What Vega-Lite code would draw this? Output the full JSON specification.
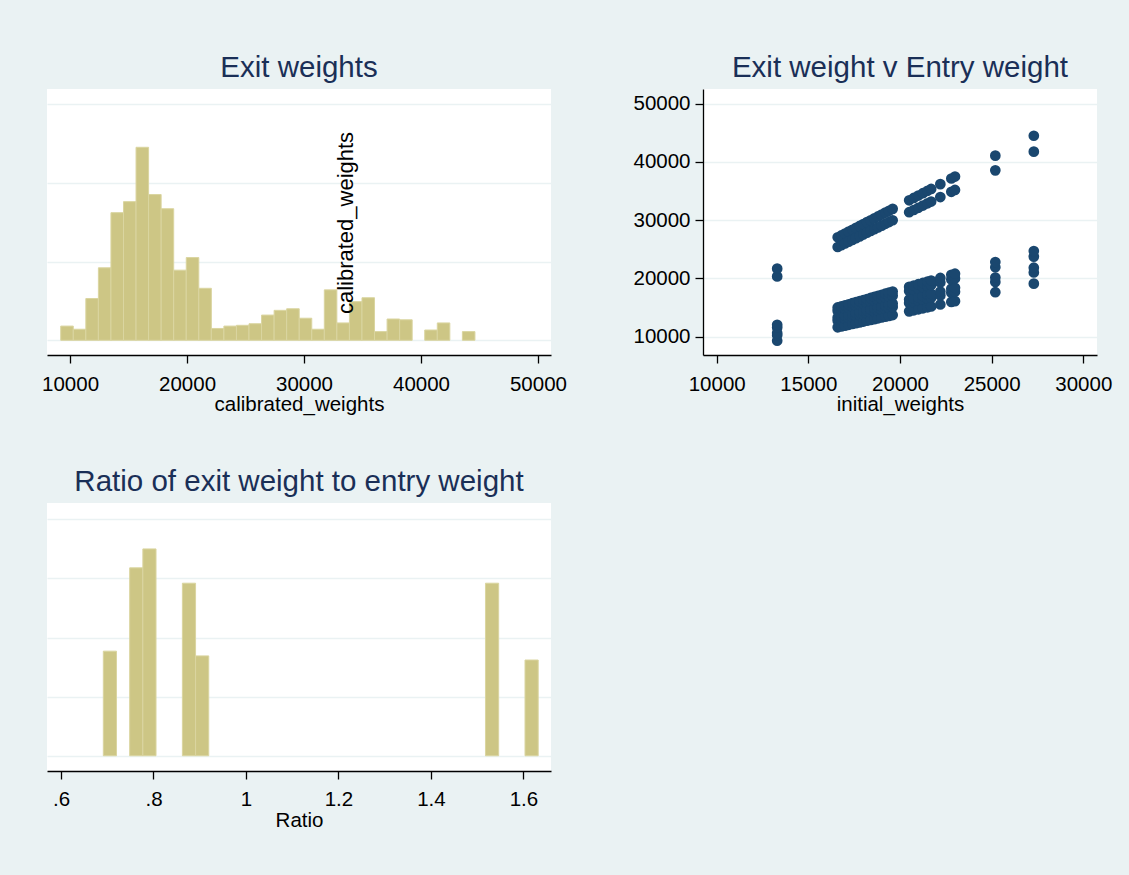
{
  "$schema": "https://vega.github.io/schema/vega-lite/v6.json",
  "background": "#eaf2f3",
  "padding": {"left": 41, "top": 52, "right": 17, "bottom": 49},
  "config": {
    "font": "Liberation Sans",
    "view": {"fill": "white", "stroke": null},
    "title": {"fontSize": 29.5, "fontWeight": "normal", "color": "#1a2f57", "baseline": "alphabetic", "offset": 6, "anchor": "middle", "frame": "group", "font": "Liberation Sans"},
    "axis": {
      "labelFont": "Liberation Sans", "labelFontSize": 20.5, "labelColor": "#000000",
      "titleFont": "Liberation Sans", "titleFontSize": 20.5, "titleFontWeight": "normal", "titleColor": "#000000",
      "domainColor": "#000000", "tickColor": "#000000", "domainWidth": 1.3, "tickWidth": 1.3, "tickSize": 8,
      "gridColor": "#eaf2f3", "gridWidth": 1.7, "gridOpacity": 1,
      "labelFlush": false, "labelOverlap": false
    }
  },
  "datasets": {
    "hist1": [
      {"bin_start": 9203, "bin_end": 10276, "density": 0.0000090},
      {"bin_start": 10276, "bin_end": 11349, "density": 0.0000070},
      {"bin_start": 11349, "bin_end": 12422, "density": 0.0000265},
      {"bin_start": 12422, "bin_end": 13495, "density": 0.0000460},
      {"bin_start": 13495, "bin_end": 14568, "density": 0.0000810},
      {"bin_start": 14568, "bin_end": 15641, "density": 0.0000880},
      {"bin_start": 15641, "bin_end": 16714, "density": 0.0001225},
      {"bin_start": 16714, "bin_end": 17787, "density": 0.0000925},
      {"bin_start": 17787, "bin_end": 18860, "density": 0.0000835},
      {"bin_start": 18860, "bin_end": 19933, "density": 0.0000445},
      {"bin_start": 19933, "bin_end": 21006, "density": 0.0000525},
      {"bin_start": 21006, "bin_end": 22079, "density": 0.0000330},
      {"bin_start": 22079, "bin_end": 23152, "density": 0.0000075},
      {"bin_start": 23152, "bin_end": 24225, "density": 0.0000090},
      {"bin_start": 24225, "bin_end": 25298, "density": 0.0000095},
      {"bin_start": 25298, "bin_end": 26371, "density": 0.0000105},
      {"bin_start": 26371, "bin_end": 27444, "density": 0.0000160},
      {"bin_start": 27444, "bin_end": 28517, "density": 0.0000190},
      {"bin_start": 28517, "bin_end": 29590, "density": 0.0000200},
      {"bin_start": 29590, "bin_end": 30663, "density": 0.0000140},
      {"bin_start": 30663, "bin_end": 31736, "density": 0.0000070},
      {"bin_start": 31736, "bin_end": 32809, "density": 0.0000320},
      {"bin_start": 32809, "bin_end": 33882, "density": 0.0000110},
      {"bin_start": 33882, "bin_end": 34955, "density": 0.0000245},
      {"bin_start": 34955, "bin_end": 36028, "density": 0.0000270},
      {"bin_start": 36028, "bin_end": 37101, "density": 0.0000055},
      {"bin_start": 37101, "bin_end": 38174, "density": 0.0000135},
      {"bin_start": 38174, "bin_end": 39247, "density": 0.0000130},
      {"bin_start": 40320, "bin_end": 41393, "density": 0.0000065},
      {"bin_start": 41393, "bin_end": 42466, "density": 0.0000110},
      {"bin_start": 43539, "bin_end": 44612, "density": 0.0000055}
    ],
    "hist2": [
      {"bin_start": 0.6915, "bin_end": 0.7200, "density": 3.54},
      {"bin_start": 0.7485, "bin_end": 0.7770, "density": 6.36},
      {"bin_start": 0.7770, "bin_end": 0.8055, "density": 7.00},
      {"bin_start": 0.8625, "bin_end": 0.8910, "density": 5.84},
      {"bin_start": 0.8910, "bin_end": 0.9195, "density": 3.38},
      {"bin_start": 1.5180, "bin_end": 1.5465, "density": 5.84},
      {"bin_start": 1.6035, "bin_end": 1.6320, "density": 3.24}
    ],
    "scatter": [
      {"iw":13300,"cw":9310},{"iw":13300,"cw":10240},{"iw":13300,"cw":10640},{"iw":13300,"cw":11570},{"iw":13300,"cw":12040},{"iw":13300,"cw":20350},{"iw":13300,"cw":21680},
      {"iw":16600,"cw":11620},{"iw":16600,"cw":12780},{"iw":16600,"cw":13280},{"iw":16600,"cw":14440},{"iw":16600,"cw":15020},{"iw":16600,"cw":25400},{"iw":16600,"cw":27060},
      {"iw":16800,"cw":11760},{"iw":16800,"cw":12940},{"iw":16800,"cw":13440},{"iw":16800,"cw":14620},{"iw":16800,"cw":15200},{"iw":16800,"cw":25700},{"iw":16800,"cw":27380},
      {"iw":17000,"cw":11900},{"iw":17000,"cw":13090},{"iw":17000,"cw":13600},{"iw":17000,"cw":14790},{"iw":17000,"cw":15390},{"iw":17000,"cw":26010},{"iw":17000,"cw":27710},
      {"iw":17200,"cw":12040},{"iw":17200,"cw":13240},{"iw":17200,"cw":13760},{"iw":17200,"cw":14960},{"iw":17200,"cw":15570},{"iw":17200,"cw":26320},{"iw":17200,"cw":28040},
      {"iw":17400,"cw":12180},{"iw":17400,"cw":13400},{"iw":17400,"cw":13920},{"iw":17400,"cw":15140},{"iw":17400,"cw":15750},{"iw":17400,"cw":26620},{"iw":17400,"cw":28360},
      {"iw":17600,"cw":12320},{"iw":17600,"cw":13550},{"iw":17600,"cw":14080},{"iw":17600,"cw":15310},{"iw":17600,"cw":15930},{"iw":17600,"cw":26930},{"iw":17600,"cw":28690},
      {"iw":17800,"cw":12460},{"iw":17800,"cw":13710},{"iw":17800,"cw":14240},{"iw":17800,"cw":15490},{"iw":17800,"cw":16110},{"iw":17800,"cw":27230},{"iw":17800,"cw":29010},
      {"iw":18000,"cw":12600},{"iw":18000,"cw":13860},{"iw":18000,"cw":14400},{"iw":18000,"cw":15660},{"iw":18000,"cw":16290},{"iw":18000,"cw":27540},{"iw":18000,"cw":29340},
      {"iw":18200,"cw":12740},{"iw":18200,"cw":14010},{"iw":18200,"cw":14560},{"iw":18200,"cw":15830},{"iw":18200,"cw":16470},{"iw":18200,"cw":27850},{"iw":18200,"cw":29670},
      {"iw":18400,"cw":12880},{"iw":18400,"cw":14170},{"iw":18400,"cw":14720},{"iw":18400,"cw":16010},{"iw":18400,"cw":16650},{"iw":18400,"cw":28150},{"iw":18400,"cw":29990},
      {"iw":18600,"cw":13020},{"iw":18600,"cw":14320},{"iw":18600,"cw":14880},{"iw":18600,"cw":16180},{"iw":18600,"cw":16830},{"iw":18600,"cw":28460},{"iw":18600,"cw":30320},
      {"iw":18800,"cw":13160},{"iw":18800,"cw":14480},{"iw":18800,"cw":15040},{"iw":18800,"cw":16360},{"iw":18800,"cw":17010},{"iw":18800,"cw":28760},{"iw":18800,"cw":30640},
      {"iw":19000,"cw":13300},{"iw":19000,"cw":14630},{"iw":19000,"cw":15200},{"iw":19000,"cw":16530},{"iw":19000,"cw":17200},{"iw":19000,"cw":29070},{"iw":19000,"cw":30970},
      {"iw":19200,"cw":13440},{"iw":19200,"cw":14780},{"iw":19200,"cw":15360},{"iw":19200,"cw":16700},{"iw":19200,"cw":17380},{"iw":19200,"cw":29380},{"iw":19200,"cw":31300},
      {"iw":19400,"cw":13580},{"iw":19400,"cw":14940},{"iw":19400,"cw":15520},{"iw":19400,"cw":16880},{"iw":19400,"cw":17560},{"iw":19400,"cw":29680},{"iw":19400,"cw":31620},
      {"iw":19600,"cw":13720},{"iw":19600,"cw":15090},{"iw":19600,"cw":15680},{"iw":19600,"cw":17050},{"iw":19600,"cw":17740},{"iw":19600,"cw":29990},{"iw":19600,"cw":31950},
      {"iw":20500,"cw":14350},{"iw":20500,"cw":15790},{"iw":20500,"cw":16400},{"iw":20500,"cw":17840},{"iw":20500,"cw":18550},{"iw":20500,"cw":31370},{"iw":20500,"cw":33420},
      {"iw":20750,"cw":14530},{"iw":20750,"cw":15980},{"iw":20750,"cw":16600},{"iw":20750,"cw":18050},{"iw":20750,"cw":18780},{"iw":20750,"cw":31750},{"iw":20750,"cw":33820},
      {"iw":21000,"cw":14700},{"iw":21000,"cw":16170},{"iw":21000,"cw":16800},{"iw":21000,"cw":18270},{"iw":21000,"cw":19010},{"iw":21000,"cw":32130},{"iw":21000,"cw":34230},
      {"iw":21250,"cw":14880},{"iw":21250,"cw":16360},{"iw":21250,"cw":17000},{"iw":21250,"cw":18490},{"iw":21250,"cw":19230},{"iw":21250,"cw":32510},{"iw":21250,"cw":34640},
      {"iw":21500,"cw":15050},{"iw":21500,"cw":16560},{"iw":21500,"cw":17200},{"iw":21500,"cw":18710},{"iw":21500,"cw":19460},{"iw":21500,"cw":32900},{"iw":21500,"cw":35050},
      {"iw":21700,"cw":15190},{"iw":21700,"cw":16710},{"iw":21700,"cw":17360},{"iw":21700,"cw":18880},{"iw":21700,"cw":19640},{"iw":21700,"cw":33200},{"iw":21700,"cw":35370},
      {"iw":22200,"cw":15540},{"iw":22200,"cw":17090},{"iw":22200,"cw":17760},{"iw":22200,"cw":19310},{"iw":22200,"cw":20090},{"iw":22200,"cw":33970},{"iw":22200,"cw":36190},
      {"iw":22800,"cw":15960},{"iw":22800,"cw":17560},{"iw":22800,"cw":18240},{"iw":22800,"cw":19840},{"iw":22800,"cw":20630},{"iw":22800,"cw":34880},{"iw":22800,"cw":37160},
      {"iw":23000,"cw":16100},{"iw":23000,"cw":17710},{"iw":23000,"cw":18400},{"iw":23000,"cw":20010},{"iw":23000,"cw":20820},{"iw":23000,"cw":35190},{"iw":23000,"cw":37490},
      {"iw":25200,"cw":17640},{"iw":25200,"cw":19400},{"iw":25200,"cw":20160},{"iw":25200,"cw":21920},{"iw":25200,"cw":22810},{"iw":25200,"cw":38560},{"iw":25200,"cw":41080},
      {"iw":27300,"cw":19110},{"iw":27300,"cw":21020},{"iw":27300,"cw":21840},{"iw":27300,"cw":23750},{"iw":27300,"cw":24710},{"iw":27300,"cw":41770},{"iw":27300,"cw":44500}
    ]
  },
  "concat": [
    {
      "width": 504, "height": 266,
      "title": "Exit weights",
      "data": {"name": "hist1"},
      "mark": {"type": "rect", "fill": "#cdc685", "stroke": "#dad5a0", "strokeWidth": 1},
      "encoding": {
        "x": {"field": "bin_start", "type": "quantitative",
          "scale": {"domain": [8029, 51114], "nice": false, "zero": false},
          "axis": {"values": [10000, 20000, 30000, 40000, 50000], "format": "d", "title": "calibrated_weights", "grid": false,
            "labelBaseline": "alphabetic", "labelPadding": 27, "titleY": 55, "titleBaseline": "alphabetic"}},
        "x2": {"field": "bin_end"},
        "y": {"field": "density", "type": "quantitative",
          "scale": {"domain": [-0.00000935, 0.0001595], "nice": false, "zero": false},
          "axis": {"values": [0, 0.00005, 0.0001, 0.00015], "grid": true, "labels": false, "ticks": false, "domain": false, "title": null}},
        "y2": {"datum": 0}
      }
    },
    {
      "width": 394, "height": 266,
      "title": "Exit weight v Entry weight",
      "data": {"name": "scatter"},
      "mark": {"type": "circle", "size": 115, "color": "#1a476f", "opacity": 1},
      "encoding": {
        "x": {"field": "iw", "type": "quantitative",
          "scale": {"domain": [9253, 30747], "nice": false, "zero": false},
          "axis": {"values": [10000, 15000, 20000, 25000, 30000], "format": "d", "title": "initial_weights", "grid": false,
            "labelBaseline": "alphabetic", "labelPadding": 27, "titleY": 55, "titleBaseline": "alphabetic"}},
        "y": {"field": "cw", "type": "quantitative",
          "scale": {"domain": [6858, 52524], "nice": false, "zero": false},
          "axis": {"values": [10000, 20000, 30000, 40000, 50000], "format": "d", "grid": true,
            "labelAlign": "right", "labelBaseline": "middle", "labelPadding": 5,
            "title": "calibrated_weights", "titleX": -357.5, "titleY": 133.5, "titleAngle": 270,
            "titleAlign": "center", "titleBaseline": "middle", "titleFontSize": 22}}
      }
    },
    {
      "width": 504, "height": 268,
      "title": "Ratio of exit weight to entry weight",
      "data": {"name": "hist2"},
      "mark": {"type": "rect", "fill": "#cdc685", "stroke": "#dad5a0", "strokeWidth": 1},
      "encoding": {
        "x": {"field": "bin_start", "type": "quantitative",
          "scale": {"domain": [0.5697, 1.6597], "nice": false, "zero": false},
          "axis": {"values": [0.6, 0.8, 1, 1.2, 1.4, 1.6], "title": "Ratio", "grid": false,
            "labelExpr": "datum.value < 1 ? '.' + format(datum.value * 10, '.0f') : format(datum.value, '.1~f')",
            "labelBaseline": "alphabetic", "labelPadding": 26, "titleY": 55, "titleBaseline": "alphabetic"}},
        "x2": {"field": "bin_end"},
        "y": {"field": "density", "type": "quantitative",
          "scale": {"domain": [-0.516, 8.554], "nice": false, "zero": false},
          "axis": {"values": [0, 2, 4, 6, 8], "grid": true, "labels": false, "ticks": false, "domain": false, "title": null}},
        "y2": {"datum": 0}
      }
    }
  ],
  "columns": 2,
  "spacing": {"row": 148, "column": 152},
  "bounds": "flush"
}
